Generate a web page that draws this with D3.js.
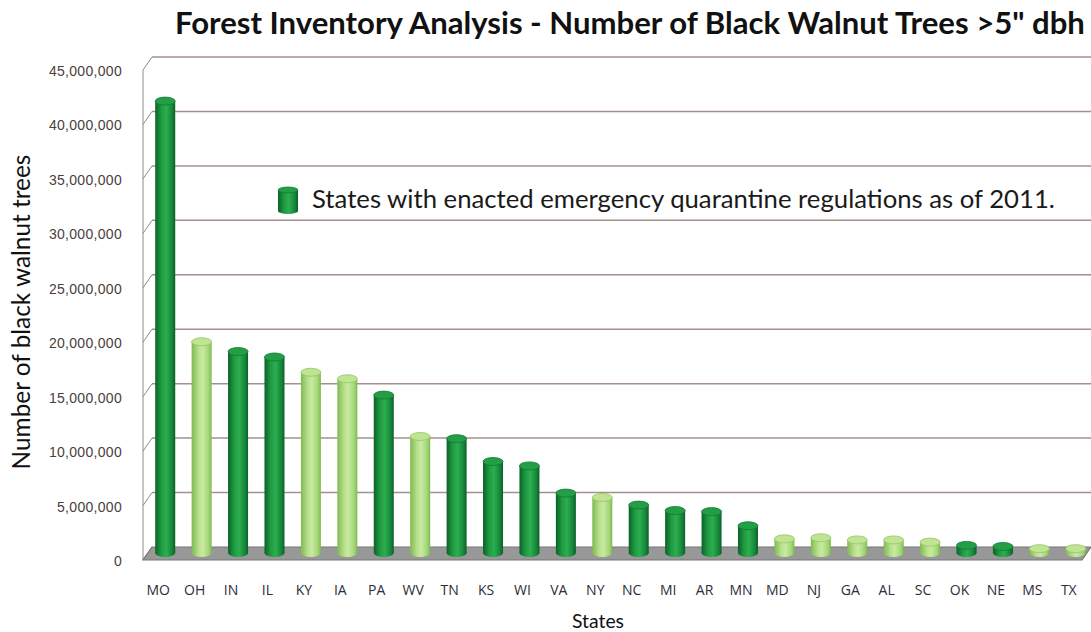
<!DOCTYPE html>
<html>
<head>
<meta charset="utf-8">
<script src="https://d3js.org/d3.v7.min.js"></script>
<style>
  body { margin: 0; background: #fff; }
  svg { display: block; }
</style>
</head>
<body>
<svg id="vis"></svg>
<script>
  // data (millions of trees, >5" dbh)
  var states = ["MO","OH","IN","IL","KY","IA","PA","WV","TN","KS","WI","VA","NY",
                "NC","MI","AR","MN","MD","NJ","GA","AL","SC","OK","NE","MS","TX"];
  var trees = [41.5, 19.4, 18.5, 18.0, 16.6, 16.0, 14.5, 10.7, 10.5, 8.4, 8.0, 5.5, 5.1,
               4.4, 3.9, 3.8, 2.5, 1.3, 1.4, 1.2, 1.2, 1.0, 0.7, 0.6, 0.4, 0.4];
  // 1 = quarantine regulations enacted as of 2011 (dark green)
  var quarantine = [1,0,1,1,0,0,1,0,1,1,1,1,0,1,1,1,1,0,0,0,0,0,1,1,0,0];
  var yTicks = [0, 5, 10, 15, 20, 25, 30, 35, 40, 45];

  var titleText = 'Forest Inventory Analysis - Number of Black Walnut Trees >5" dbh';
  var legendText = "States with enacted emergency quarantine regulations as of 2011.";

  var W = 1091, H = 632;
  var svg = d3.select("#vis").attr("width", W).attr("height", H);

  var depthX = 9, depthY = 13;     // back wall offset
  var barDX = 7, barDY = 7;        // cylinders sit mid-depth

  var x = d3.scaleBand().domain(states).range([140, 1087])
      .paddingInner(0.45).paddingOuter(0.225);
  var y = d3.scaleLinear().domain([0, 45]).range([560, 70]);

  // gradients for the cylinders
  var defs = svg.append("defs");
  function grad(id, stops) {
    var g = defs.append("linearGradient").attr("id", id)
        .attr("x1", "0%").attr("x2", "100%").attr("y1", "0%").attr("y2", "0%");
    stops.forEach(function(s) {
      g.append("stop").attr("offset", s[0]).attr("stop-color", s[1]);
    });
  }
  grad("gDark", [["0%", "#0a6127"], ["30%", "#1f9a42"], ["55%", "#2cae4f"], ["85%", "#16853a"], ["100%", "#0a5e26"]]);
  grad("gLight", [["0%", "#7fba52"], ["35%", "#b9e08d"], ["55%", "#c8eaa2"], ["85%", "#a3d576"], ["100%", "#7cb850"]]);
  var capFill = ["#c0e394", "#239e46"];
  var capStroke = ["#93c865", "#117a34"];

  // back wall gridlines
  var xLeftFront = 143, xRightBack = W;
  svg.append("g").selectAll("line.grid")
    .data(yTicks.slice(1)).enter().append("line")
    .attr("x1", xLeftFront + depthX).attr("x2", xRightBack)
    .attr("y1", function(d) { return y(d) - depthY; })
    .attr("y2", function(d) { return y(d) - depthY; })
    .attr("stroke", "#a3918d").attr("stroke-width", 1.5);

  // left wall: front edge and slanted ticks
  svg.append("line")
    .attr("x1", xLeftFront).attr("x2", xLeftFront)
    .attr("y1", y(45)).attr("y2", y(0))
    .attr("stroke", "#8f8a88").attr("stroke-width", 1);
  svg.append("g").selectAll("line")
    .data(yTicks).enter().append("line")
    .attr("x1", xLeftFront).attr("y1", function(d) { return y(d); })
    .attr("x2", xLeftFront + depthX).attr("y2", function(d) { return y(d) - depthY; })
    .attr("stroke", "#8f8a88").attr("stroke-width", 1);

  // floor
  var y0 = y(0);
  svg.append("polygon")
    .attr("points", [[xLeftFront, y0], [1082, y0], [W, y0 - depthY], [xLeftFront + depthX, y0 - depthY]]
      .map(function(p) { return p.join(","); }).join(" "))
    .attr("fill", "#989898").attr("stroke", "#777").attr("stroke-width", 1.2);

  // cylinders
  var bw = 20, ry = 4;
  var data = states.map(function(s, i) { return { s: s, v: trees[i], q: quarantine[i] }; });
  var bars = svg.append("g").selectAll("g").data(data).enter().append("g");
  function cx(d) { return x(d.s) + x.bandwidth() / 2 + barDX; }
  var base = y0 - barDY;
  bars.append("ellipse")
    .attr("cx", cx).attr("cy", base)
    .attr("rx", bw / 2).attr("ry", ry)
    .attr("fill", function(d) { return d.q ? "url(#gDark)" : "url(#gLight)"; });
  bars.append("rect")
    .attr("x", function(d) { return cx(d) - bw / 2; })
    .attr("y", function(d) { return y(d.v) - barDY; })
    .attr("width", bw)
    .attr("height", function(d) { return base - (y(d.v) - barDY); })
    .attr("fill", function(d) { return d.q ? "url(#gDark)" : "url(#gLight)"; });
  bars.append("ellipse")
    .attr("cx", cx).attr("cy", function(d) { return y(d.v) - barDY; })
    .attr("rx", bw / 2).attr("ry", ry)
    .attr("fill", function(d) { return capFill[d.q]; })
    .attr("stroke", function(d) { return capStroke[d.q]; })
    .attr("stroke-width", 0.8);

  // y axis labels
  var yAxis = d3.axisLeft(y).tickValues(yTicks).tickSize(0).tickPadding(0)
    .tickFormat(function(d) { return d3.format(",")(d * 1e6); });
  var gy = svg.append("g").attr("transform", "translate(122,1)").call(yAxis);
  gy.select(".domain").remove();
  gy.selectAll("text").attr("font-family", "Liberation Sans, Arial, sans-serif")
    .attr("font-size", 14).attr("letter-spacing", 0.3).attr("fill", "#4a403c");

  // x axis labels
  var xAxis = d3.axisBottom(x).tickSize(0).tickPadding(0);
  var gx = svg.append("g").attr("transform", "translate(0,585)").call(xAxis);
  gx.select(".domain").remove();
  gx.selectAll("text").attr("font-family", "Open Sans, sans-serif")
    .attr("font-size", 14).attr("fill", "#2e2e3a");

  // fit a text element's width by adjusting its font size
  function fit(sel, width) {
    var fs = +sel.attr("font-size");
    var w = sel.node().getComputedTextLength();
    sel.attr("font-size", (fs * width / w).toFixed(2));
  }

  // title
  var title = svg.append("text").attr("x", 175).attr("y", 34)
    .attr("font-family", "Lato, Open Sans, sans-serif").attr("font-weight", "bold")
    .attr("font-size", 28).attr("fill", "#111").text(titleText);
  fit(title, 910);

  // axis titles
  var yt = svg.append("text")
    .attr("transform", "translate(30,312) rotate(-90)")
    .attr("text-anchor", "middle")
    .attr("font-family", "Lato, Open Sans, sans-serif")
    .attr("font-size", 22).attr("fill", "#111").text("Number of black walnut trees");
  fit(yt, 315);

  var xt = svg.append("text").attr("x", 598).attr("y", 628)
    .attr("text-anchor", "middle")
    .attr("font-family", "Lato, Open Sans, sans-serif")
    .attr("font-size", 21).attr("fill", "#111").text("States");
  fit(xt, 52);

  // legend
  var lg = svg.append("g");
  lg.append("rect").attr("x", 278).attr("y", 190).attr("width", 20).attr("height", 21)
    .attr("fill", "url(#gDark)");
  lg.append("ellipse").attr("cx", 288).attr("cy", 211).attr("rx", 10).attr("ry", 3)
    .attr("fill", "url(#gDark)");
  lg.append("ellipse").attr("cx", 288).attr("cy", 190).attr("rx", 10).attr("ry", 3)
    .attr("fill", capFill[1]).attr("stroke", capStroke[1]).attr("stroke-width", 0.8);
  var lt = lg.append("text").attr("x", 312).attr("y", 208)
    .attr("font-family", "Lato, Open Sans, sans-serif")
    .attr("font-size", 20).attr("fill", "#1a1a1a").text(legendText);
  fit(lt, 743);
</script>
</body>
</html>
